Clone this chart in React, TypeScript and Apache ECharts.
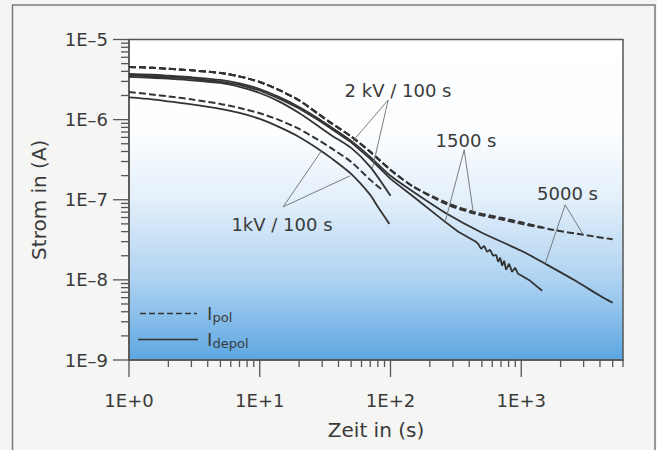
import React, { useEffect, useRef } from "react";
import * as echarts from "echarts";

const FONT = '"DejaVu Sans", "Liberation Sans", sans-serif';
const INK = "#3a3a3a";

// 1 kV / 100 s
const kv1PolTime = [1, 1.5, 2, 3, 5, 7, 10, 14, 20, 28, 35, 50, 70, 88];
const kv1PolCurrent = [2.21e-6, 2.06e-6, 1.95e-6, 1.79e-6, 1.57e-6, 1.4e-6, 1.2e-6, 9.92e-7, 7.66e-7, 5.58e-7, 4.44e-7, 2.97e-7, 1.77e-7, 1.29e-7];
const kv1DepolTime = [1, 1.5, 2, 3, 5, 7, 10, 14, 20, 28, 35, 50, 70, 80, 98];
const kv1DepolCurrent = [1.89e-6, 1.79e-6, 1.69e-6, 1.55e-6, 1.36e-6, 1.21e-6, 1.02e-6, 8.11e-7, 6.08e-7, 4.31e-7, 3.33e-7, 2.1e-7, 1.15e-7, 8.16e-8, 5.0e-8];

// 2 kV / 100 s
const kv2PolTime = [1, 1.5, 2, 3, 5, 7, 10, 14, 20, 28, 35, 50, 70, 100];
const kv2PolCurrent = [4.54e-6, 4.44e-6, 4.31e-6, 4.13e-6, 3.82e-6, 3.46e-6, 2.95e-6, 2.35e-6, 1.74e-6, 1.18e-6, 9.1e-7, 6.17e-7, 3.96e-7, 2.36e-7];
const kv2DepolTime = [1, 1.5, 2, 3, 5, 7, 10, 14, 20, 28, 35, 50, 70, 100];
const kv2DepolCurrent = [3.41e-6, 3.33e-6, 3.24e-6, 3.1e-6, 2.87e-6, 2.56e-6, 2.15e-6, 1.69e-6, 1.21e-6, 8.34e-7, 6.45e-7, 4.44e-7, 2.57e-7, 1.12e-7];

// 1500 s
const s1500PolTime = [1, 1.5, 2, 3, 5, 7, 10, 14, 20, 28, 35, 50, 70, 100, 150, 270, 430, 700, 1000, 1450];
const s1500PolCurrent = [4.54e-6, 4.44e-6, 4.31e-6, 4.13e-6, 3.82e-6, 3.46e-6, 2.95e-6, 2.35e-6, 1.74e-6, 1.18e-6, 9.1e-7, 6.17e-7, 3.96e-7, 2.36e-7, 1.45e-7, 8.77e-8, 6.76e-8, 5.69e-8, 5.0e-8, 4.46e-8];
const s1500DepolTime = [1, 1.5, 2, 3, 5, 7, 10, 14, 20, 28, 35, 50, 70, 100, 150, 262, 330, 450, 468, 493, 520, 548, 578, 609, 643, 666, 690, 714, 740, 766, 808, 851, 897, 946, 1016, 1170, 1445];
const s1500DepolCurrent = [3.56e-6, 3.48e-6, 3.38e-6, 3.24e-6, 2.99e-6, 2.71e-6, 2.31e-6, 1.84e-6, 1.38e-6, 9.92e-7, 7.77e-7, 5.2e-7, 3.24e-7, 1.82e-7, 1.09e-7, 5.3e-8, 3.98e-8, 2.99e-8, 2.82e-8, 2.44e-8, 2.66e-8, 2.24e-8, 2.37e-8, 2.0e-8, 2.05e-8, 1.68e-8, 1.89e-8, 1.5e-8, 1.73e-8, 1.34e-8, 1.59e-8, 1.26e-8, 1.42e-8, 1.19e-8, 1.12e-8, 9.73e-9, 7.31e-9];

// 5000 s
const s5000PolTime = [1, 1.5, 2, 3, 5, 7, 10, 14, 20, 28, 35, 50, 70, 100, 150, 270, 430, 700, 1000, 1750, 3000, 5000];
const s5000PolCurrent = [4.54e-6, 4.44e-6, 4.31e-6, 4.13e-6, 3.82e-6, 3.46e-6, 2.95e-6, 2.35e-6, 1.74e-6, 1.18e-6, 9.1e-7, 6.17e-7, 3.96e-7, 2.36e-7, 1.45e-7, 9.15e-8, 7.06e-8, 5.95e-8, 5.23e-8, 4.21e-8, 3.65e-8, 3.21e-8];
const s5000DepolTime = [1, 1.5, 2, 3, 5, 7, 10, 14, 20, 28, 35, 50, 70, 100, 150, 270, 500, 1000, 1580, 2600, 4000, 5000];
const s5000DepolCurrent = [3.71e-6, 3.63e-6, 3.53e-6, 3.38e-6, 3.13e-6, 2.83e-6, 2.41e-6, 1.92e-6, 1.44e-6, 1.035e-6, 8.11e-7, 5.43e-7, 3.43e-7, 1.99e-7, 1.25e-7, 6.67e-8, 3.87e-8, 2.31e-8, 1.54e-8, 9.74e-9, 6.33e-9, 5.18e-9];

// annotation pointers: [fromTime, fromCurrent, toTime, toCurrent]
const pointers2kV = [[96, 1.76e-6, 51.7, 5.42e-7], [96, 1.76e-6, 72.3, 2.36e-7]];
const pointers1kV = [[15.1, 8.15e-8, 30, 4.19e-7], [15.1, 8.15e-8, 49.1, 1.99e-7]];
const pointers1500 = [[366, 4.19e-7, 262, 5.3e-8], [366, 4.19e-7, 429, 7.06e-8]];
const pointers5000 = [[2168, 8.63e-8, 1524, 1.6e-8], [2168, 8.63e-8, 2978, 3.65e-8]];

const annotationTexts = ["2 kV / 100 s", "1kV / 100 s", "1500 s", "5000 s"];

const X_MIN = 1;
const X_MAX = 6000;
const Y_MIN = 1e-9;
const Y_MAX = 1e-5;

// tick values for the log axes: [value, isMajor]
function xTickValues() {
  const out: [number, boolean][] = [];
  for (let e = 0; e <= 3; e++) {
    for (let m = 1; m <= 9; m++) {
      const v = m * Math.pow(10, e);
      if (v > X_MAX * 1.0001) break;
      out.push([v, m === 1]);
    }
  }
  return out;
}
function yTickValues() {
  const out: [number, boolean][] = [];
  for (let e = -9; e <= -5; e++) {
    for (let m = 1; m <= 9; m++) {
      const v = m * Math.pow(10, e);
      if (v > Y_MAX * 1.0001) break;
      out.push([v, m === 1]);
    }
  }
  return out;
}

function curve(name: string, t: number[], c: number[], dashed: boolean, smooth: number | boolean = 0.25) {
  return {
    name,
    type: "line",
    data: t.map((x, i) => [x, c[i]]),
    showSymbol: false,
    symbol: "none",
    smooth,
    clip: true,
    z: 3,
    lineStyle: {
      color: "#333333",
      width: dashed ? 2 : 1.8,
      type: dashed ? [7, 3] : "solid",
    },
  };
}

export default function App() {
  const ref = useRef<HTMLDivElement>(null);

  useEffect(() => {
    if (!ref.current) return;
    const chart = echarts.init(ref.current, undefined, { renderer: "svg" });

    const allPointers = [...pointers2kV, ...pointers1kV, ...pointers1500, ...pointers5000];

    const text = (t: string, x: number, y: number, size = 18, align = "center") => ({
      type: "text",
      x,
      y,
      z: 10,
      style: {
        text: t,
        fill: INK,
        fontSize: size,
        fontFamily: FONT,
        align,
        verticalAlign: "middle",
      },
    });

    const baseGraphic: any[] = [
      {
        type: "rect",
        z: 0,
        silent: true,
        shape: { x: 12.5, y: 5, width: 642.5, height: 470 },
        style: { fill: "none", stroke: "#7a7a7a", lineWidth: 1.5 },
      },
      text(annotationTexts[0], 398, 90.5),
      text(annotationTexts[1], 282, 224),
      text(annotationTexts[2], 466, 140),
      text(annotationTexts[3], 567.5, 193.5),
      {
        type: "line",
        z: 10,
        shape: { x1: 140, y1: 313.5, x2: 197, y2: 313.5 },
        style: { stroke: "#333333", lineWidth: 1.6, lineDash: [6, 3] },
      },
      {
        type: "line",
        z: 10,
        shape: { x1: 138, y1: 339.5, x2: 198, y2: 339.5 },
        style: { stroke: "#333333", lineWidth: 1.6 },
      },
      text("I", 207, 313.5, 18, "left"),
      text("pol", 212.5, 317.5, 13, "left"),
      text("I", 207, 339.5, 18, "left"),
      text("depol", 212.5, 343.5, 13, "left"),
    ];

    chart.setOption({
      animation: false,
      backgroundColor: "#f5f5f3",
      grid: {
        left: 129,
        top: 39.5,
        right: 34,
        bottom: 90,
        show: true,
        borderColor: "#555555",
        borderWidth: 1.5,
        backgroundColor: {
          type: "linear",
          x: 0,
          y: 0,
          x2: 0,
          y2: 1,
          colorStops: [
            { offset: 0, color: "#ffffff" },
            { offset: 0.3, color: "#fbfdff" },
            { offset: 0.5, color: "#e3effa" },
            { offset: 0.75, color: "#aed2f1" },
            { offset: 1, color: "#5ca7e2" },
          ],
        },
      },
      xAxis: {
        type: "log",
        logBase: 10,
        min: X_MIN,
        max: X_MAX,
        name: "Zeit in (s)",
        nameLocation: "middle",
        nameGap: 60,
        nameTextStyle: { fontSize: 20, fontFamily: FONT, color: INK },
        axisLine: { show: true, lineStyle: { color: "#555555", width: 1.5 } },
        axisTick: { show: false },
        splitLine: { show: false },
        minorTick: { show: false },
        axisLabel: {
          margin: 31,
          fontSize: 18,
          fontFamily: FONT,
          color: INK,
          formatter: (v: number) => {
            const l = Math.log10(v);
            if (Math.abs(l - Math.round(l)) > 1e-6) return "";
            return "1E+" + Math.round(l);
          },
        },
      },
      yAxis: {
        type: "log",
        logBase: 10,
        min: Y_MIN,
        max: Y_MAX,
        name: "Strom in (A)",
        nameLocation: "middle",
        nameGap: 80,
        nameRotate: 90,
        nameTextStyle: { fontSize: 20, fontFamily: FONT, color: INK },
        axisLine: { show: true, lineStyle: { color: "#555555", width: 1.5 } },
        axisTick: { show: false },
        splitLine: { show: false },
        minorTick: { show: false },
        axisLabel: {
          margin: 21,
          fontSize: 18,
          fontFamily: FONT,
          color: INK,
          formatter: (v: number) => {
            const l = Math.log10(v);
            if (Math.abs(l - Math.round(l)) > 1e-6) return "";
            const e = Math.round(l);
            return "1E" + (e < 0 ? "–" : "+") + Math.abs(e);
          },
        },
      },
      series: [
        curve("1kV pol", kv1PolTime, kv1PolCurrent, true),
        curve("1kV depol", kv1DepolTime, kv1DepolCurrent, false),
        curve("2kV pol", kv2PolTime, kv2PolCurrent, true),
        curve("2kV depol", kv2DepolTime, kv2DepolCurrent, false),
        curve("1500 pol", s1500PolTime, s1500PolCurrent, true),
        curve("1500 depol", s1500DepolTime, s1500DepolCurrent, false, false),
        curve("5000 pol", s5000PolTime, s5000PolCurrent, true),
        curve("5000 depol", s5000DepolTime, s5000DepolCurrent, false),
        {
          name: "pointers",
          type: "line",
          data: [[X_MIN, Y_MIN]],
          showSymbol: false,
          symbol: "none",
          lineStyle: { opacity: 0 },
          markLine: {
            silent: true,
            animation: false,
            symbol: ["none", "none"],
            label: { show: false },
            lineStyle: { color: "#6e6e6e", width: 0.9, type: "solid" },
            data: allPointers.map((p) => [{ coord: [p[0], p[1]] }, { coord: [p[2], p[3]] }]),
          },
        },
      ],
      graphic: baseGraphic,
    });

    // axis ticks (log minor ticks 2..9), positioned through the chart's own scales
    const tickGraphic: any[] = [];
    xTickValues().forEach(([v, major]) => {
      const p = chart.convertToPixel({ gridIndex: 0 }, [v, Y_MIN]) as number[];
      if (!p) return;
      const len = major ? 17 : 7;
      tickGraphic.push({
        type: "line",
        z: 6,
        silent: true,
        shape: { x1: p[0], y1: p[1], x2: p[0], y2: p[1] + len },
        style: { stroke: "#555555", lineWidth: 1.3 },
      });
    });
    yTickValues().forEach(([v, major]) => {
      const p = chart.convertToPixel({ gridIndex: 0 }, [X_MIN, v]) as number[];
      if (!p) return;
      const len = major ? 16 : 8;
      tickGraphic.push({
        type: "line",
        z: 6,
        silent: true,
        shape: { x1: p[0] - len, y1: p[1], x2: p[0], y2: p[1] },
        style: { stroke: "#555555", lineWidth: 1.3 },
      });
    });
    chart.setOption({ graphic: [...baseGraphic, ...tickGraphic] });

    return () => chart.dispose();
  }, []);

  return (
    <div
      ref={ref}
      style={{ position: "fixed", left: 0, top: 0, width: 657, height: 450 }}
    />
  );
}
